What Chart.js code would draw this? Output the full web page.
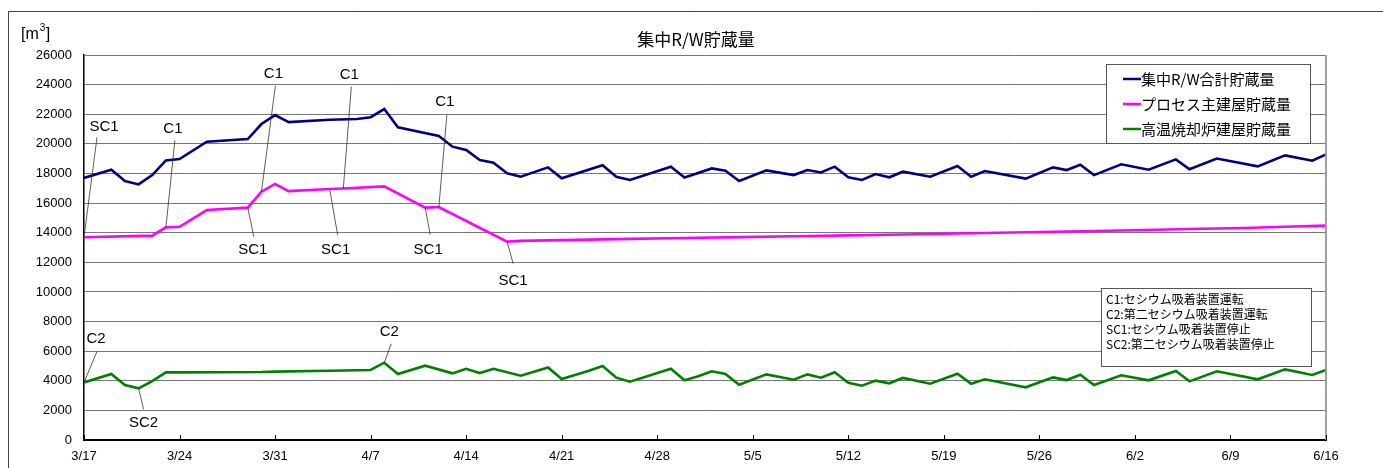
<!DOCTYPE html>
<html lang="ja">
<head>
<meta charset="UTF-8">
<title>集中R/W貯蔵量</title>
<script src="https://cdn.jsdelivr.net/npm/chart.js"></script>
<style>
    html, body { margin: 0; padding: 0; background: #fff; }
    #wrap { width: 1383px; height: 468px; }
</style>
</head>
<body>
<div id="wrap"><canvas id="storageChart" width="1383" height="468"></canvas></div>
<script>
// x axis: days counted from 3/17, one tick per week
const xTickLabels = ['3/17', '3/24', '3/31', '4/7', '4/14', '4/21', '4/28', '5/5', '5/12', '5/19', '5/26', '6/2', '6/9', '6/16'];

const seriesNames = ['集中R/W合計貯蔵量', 'プロセス主建屋貯蔵量', '高温焼却炉建屋貯蔵量'];

const totalDays = [0, 2, 3, 4, 5, 6, 7, 9, 12, 13, 14, 15, 18, 20, 21, 22, 23, 26, 27, 28, 29, 30, 31, 32, 34, 35, 38, 39, 40, 43, 44, 46, 47, 48, 50, 52, 53, 54, 55, 56, 57, 58, 59, 60, 62, 64, 65, 66, 69, 71, 72, 73, 74, 76, 78, 80, 81, 83, 86, 88, 90, 91];
const totalValues = [17700, 18250, 17490, 17260, 17890, 18880, 18970, 20140, 20320, 21340, 21940, 21470, 21630, 21680, 21800, 22350, 21120, 20530, 19810, 19580, 18910, 18730, 18010, 17780, 18410, 17670, 18550, 17780, 17560, 18460, 17730, 18340, 18180, 17490, 18210, 17890, 18230, 18070, 18460, 17740, 17560, 17960, 17740, 18120, 17780, 18500, 17780, 18160, 17650, 18410, 18230, 18590, 17890, 18620, 18250, 18950, 18280, 19010, 18480, 19220, 18860, 19290];

const processDays = [0, 5, 6, 7, 9, 12, 13, 14, 15, 18, 19, 22, 25, 26, 31, 32, 35, 40, 44, 48, 52, 56, 60, 65, 69, 73, 77, 81, 85, 88, 91];
const processValues = [13690, 13800, 14360, 14400, 15530, 15690, 16770, 17290, 16810, 16950, 16980, 17130, 15690, 15730, 13400, 13450, 13500, 13580, 13640, 13700, 13760, 13820, 13880, 13960, 14030, 14100, 14170, 14250, 14320, 14400, 14480];

const hightempDays = [0, 2, 3, 4, 5, 6, 7, 13, 14, 18, 21, 22, 23, 25, 27, 28, 29, 30, 32, 34, 35, 37, 38, 39, 40, 43, 44, 45, 46, 47, 48, 50, 52, 53, 54, 55, 56, 57, 58, 59, 60, 62, 64, 65, 66, 69, 71, 72, 73, 74, 76, 78, 80, 81, 83, 86, 88, 90, 91];
const hightempValues = [3890, 4460, 3710, 3490, 3980, 4570, 4570, 4590, 4620, 4680, 4730, 5220, 4460, 5020, 4500, 4810, 4520, 4810, 4340, 4900, 4120, 4680, 5000, 4210, 3940, 4810, 4030, 4300, 4640, 4460, 3730, 4430, 4070, 4430, 4210, 4570, 3870, 3670, 4010, 3830, 4190, 3800, 4480, 3800, 4100, 3560, 4230, 4050, 4410, 3710, 4370, 4030, 4660, 3960, 4640, 4100, 4770, 4390, 4730];

const noteLines = ['C1:セシウム吸着装置運転', 'C2:第二セシウム吸着装置運転', 'SC1:セシウム吸着装置停止', 'SC2:第二セシウム吸着装置停止'];

// callouts: anchored on a series point, label/leader offsets in px
const callouts = [
    { text: 'SC1', series: 1, day: 0,  dx: 20, dy: -110, lx: 13, ly: -100 },
    { text: 'C1',  series: 1, day: 6,  dx: 7,  dy: -99,  lx: 9,  ly: -87 },
    { text: 'C1',  series: 1, day: 13, dx: 12, dy: -118, lx: 14, ly: -106 },
    { text: 'C1',  series: 1, day: 19, dx: 6,  dy: -114, lx: 8,  ly: -102 },
    { text: 'C1',  series: 1, day: 26, dx: 6,  dy: -105, lx: 8,  ly: -92 },
    { text: 'SC1', series: 1, day: 12, dx: 5,  dy: 42,   lx: 6,  ly: 29 },
    { text: 'SC1', series: 1, day: 18, dx: 6,  dy: 61,   lx: 8,  ly: 46 },
    { text: 'SC1', series: 1, day: 25, dx: 3,  dy: 42,   lx: 5,  ly: 27 },
    { text: 'SC1', series: 1, day: 31, dx: 6,  dy: 39,   lx: 6,  ly: 22 },
    { text: 'C2',  series: 2, day: 0,  dx: 12, dy: -44,  lx: 13, ly: -31 },
    { text: 'SC2', series: 2, day: 4,  dx: 5,  dy: 35,   lx: 5,  ly: 21 },
    { text: 'C2',  series: 2, day: 22, dx: 5,  dy: -31,  lx: 7,  ly: -19 }
];

const seriesDays = [totalDays, processDays, hightempDays];
const seriesValues = [totalValues, processValues, hightempValues];
const seriesColors = ['#000080', '#ff00ff', '#008000'];

function toPoints(days, values) {
    return days.map((d, i) => ({ x: d, y: values[i] }));
}

const extras = {
    id: 'extras',
    beforeDraw(chart) {
        const ctx = chart.ctx;
        ctx.save();
        ctx.fillStyle = '#fff';
        ctx.fillRect(0, 0, chart.width, chart.height);
        ctx.restore();
    },
    afterDraw(chart) {
        const ctx = chart.ctx;
        const xs = chart.scales.x, ys = chart.scales.y;
        const area = chart.chartArea;
        ctx.save();

        // outer frame
        ctx.strokeStyle = '#444';
        ctx.lineWidth = 1;
        ctx.beginPath();
        ctx.moveTo(8.5, chart.height);
        ctx.lineTo(8.5, 11.5);
        ctx.lineTo(chart.width, 11.5);
        ctx.stroke();

        // right edge of plot
        ctx.strokeStyle = '#a0a0a0';
        ctx.lineWidth = 2;
        ctx.beginPath();
        ctx.moveTo(area.right, area.top);
        ctx.lineTo(area.right, area.bottom);
        ctx.stroke();

        // inside tick marks on x axis
        ctx.strokeStyle = '#000';
        ctx.lineWidth = 1;
        xTickLabels.forEach((_, i) => {
            const px = Math.round(xs.getPixelForValue(i * 7)) + 0.5;
            ctx.beginPath();
            ctx.moveTo(px, area.bottom);
            ctx.lineTo(px, area.bottom - 5);
            ctx.stroke();
        });

        // title
        ctx.fillStyle = '#000';
        ctx.font = '17px "Noto Sans CJK JP"';
        ctx.textAlign = 'center';
        ctx.textBaseline = 'middle';
        ctx.fillText('集中R/W貯蔵量', 696, 40);

        // unit
        ctx.textAlign = 'left';
        ctx.textBaseline = 'alphabetic';
        ctx.font = '16px "Liberation Sans"';
        ctx.fillText('[m', 21, 39);
        const mw = ctx.measureText('[m').width;
        ctx.font = '10px "Liberation Sans"';
        ctx.fillText('3', 21 + mw + 1, 31);
        ctx.font = '16px "Liberation Sans"';
        ctx.fillText(']', 21 + mw + 7, 39);

        // callouts
        ctx.font = '15px "Liberation Sans"';
        ctx.textAlign = 'center';
        ctx.textBaseline = 'middle';
        callouts.forEach(c => {
            const idx = seriesDays[c.series].indexOf(c.day);
            const ax = xs.getPixelForValue(c.day);
            const ay = ys.getPixelForValue(seriesValues[c.series][idx]);
            ctx.strokeStyle = '#333';
            ctx.lineWidth = 0.8;
            ctx.beginPath();
            ctx.moveTo(ax, ay);
            ctx.lineTo(ax + c.lx, ay + c.ly);
            ctx.stroke();
            ctx.fillStyle = '#000';
            ctx.fillText(c.text, ax + c.dx, ay + c.dy);
        });

        // legend box
        ctx.fillStyle = '#fff';
        ctx.fillRect(1106, 64, 204, 79);
        ctx.strokeStyle = '#555';
        ctx.lineWidth = 1;
        ctx.strokeRect(1106.5, 64.5, 204, 79);
        ctx.font = '15px "Noto Sans CJK JP"';
        ctx.textAlign = 'left';
        chart.data.datasets.forEach((ds, i) => {
            const ry = 79 + i * 25;
            ctx.strokeStyle = ds.borderColor;
            ctx.lineWidth = 2.5;
            ctx.beginPath();
            ctx.moveTo(1123, ry);
            ctx.lineTo(1141, ry);
            ctx.stroke();
            ctx.fillStyle = '#000';
            ctx.fillText(ds.label, 1141, ry);
        });

        // note box
        ctx.fillStyle = '#fff';
        ctx.fillRect(1101, 288, 210, 78);
        ctx.strokeStyle = '#555';
        ctx.lineWidth = 1;
        ctx.strokeRect(1101.5, 288.5, 210, 78);
        ctx.fillStyle = '#000';
        ctx.font = '12px "Noto Sans CJK JP"';
        noteLines.forEach((t, i) => {
            ctx.fillText(t, 1106, 299 + i * 15);
        });

        ctx.restore();
    }
};

new Chart(document.getElementById('storageChart'), {
    type: 'line',
    data: {
        datasets: seriesNames.map((name, i) => ({
            label: name,
            data: toPoints(seriesDays[i], seriesValues[i]),
            borderColor: seriesColors[i],
            backgroundColor: seriesColors[i],
            borderWidth: 2.6,
            pointRadius: 0,
            tension: 0,
            fill: false
        }))
    },
    options: {
        responsive: false,
        animation: false,
        devicePixelRatio: 1,
        layout: { padding: { top: 55, right: 57, left: 0, bottom: 0 } },
        plugins: {
            legend: { display: false },
            title: { display: false },
            tooltip: { enabled: false }
        },
        scales: {
            x: {
                type: 'linear',
                min: 0,
                max: 91,
                afterFit: s => { s.height = 28; },
                grid: { display: false, drawTicks: false },
                border: { color: '#000', width: 2 },
                ticks: {
                    stepSize: 7,
                    autoSkip: false,
                    maxRotation: 0,
                    padding: 9,
                    color: '#000',
                    font: { family: '"Liberation Sans"', size: 13 },
                    callback: v => xTickLabels[v / 7]
                }
            },
            y: {
                min: 0,
                max: 26000,
                afterFit: s => { s.width = 84; },
                grid: { color: '#777', lineWidth: 1, drawTicks: false },
                border: { color: '#000', width: 1.5 },
                ticks: {
                    stepSize: 2000,
                    padding: 12,
                    color: '#000',
                    font: { family: '"Liberation Sans"', size: 13 },
                    callback: v => String(v)
                }
            }
        }
    },
    plugins: [extras]
});
</script>
</body>
</html>
